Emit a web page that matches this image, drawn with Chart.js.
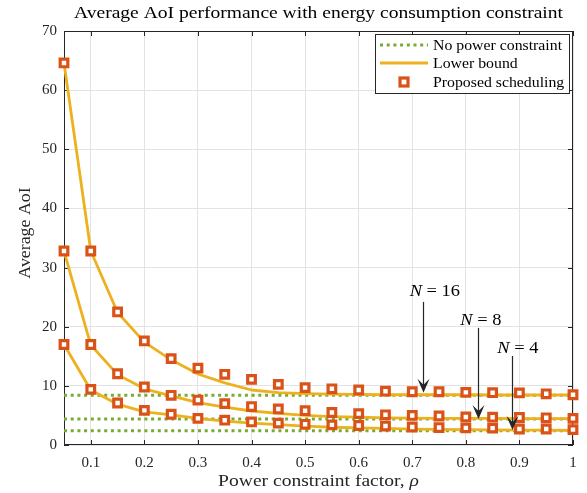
<!DOCTYPE html>
<html>
<head>
<meta charset="utf-8">
<script src="https://cdn.jsdelivr.net/npm/chart.js@4.4.1/dist/chart.umd.min.js"></script>
<style>
  html, body { margin: 0; padding: 0; background: #fff; }
</style>
</head>
<body>
<canvas id="myChart" width="587" height="493"></canvas>
<script>
const SERIF = '"Liberation Serif", "DejaVu Serif", serif';

const rhoValues = [0.05, 0.1, 0.15, 0.2, 0.25, 0.3, 0.35, 0.4, 0.45, 0.5,
  0.55, 0.6, 0.65, 0.7, 0.75, 0.8, 0.85, 0.9, 0.95, 1.0];
const xTicks = [0.1, 0.2, 0.3, 0.4, 0.5, 0.6, 0.7, 0.8, 0.9, 1];

// proposed scheduling (squares)
const schedN16 = [64.6, 32.8, 22.5, 17.6, 14.6, 13.0, 11.95, 11.1, 10.25, 9.7,
  9.5, 9.3, 9.1, 9.0, 9.0, 8.9, 8.85, 8.8, 8.65, 8.5];
const schedN8 = [32.8, 17.0, 12.05, 9.8, 8.4, 7.6, 7.0, 6.5, 6.1, 5.8,
  5.5, 5.3, 5.1, 5.0, 4.9, 4.75, 4.7, 4.65, 4.6, 4.5];
const schedN4 = [17.0, 9.4, 7.1, 5.85, 5.2, 4.5, 4.2, 3.9, 3.7, 3.5,
  3.4, 3.3, 3.2, 3.05, 2.95, 2.9, 2.85, 2.7, 2.7, 2.6];

// lower bound (solid)
const boundN16 = [64.6, 32.8, 22.4, 17.4, 14.4, 12.0, 10.5, 9.3, 8.85, 8.7,
  8.6, 8.55, 8.5, 8.5, 8.5, 8.5, 8.45, 8.45, 8.45, 8.45];
const boundN8 = [32.8, 16.9, 11.9, 9.5, 8.3, 7.15, 6.4, 5.75, 5.35, 5.0,
  4.8, 4.7, 4.6, 4.55, 4.5, 4.5, 4.5, 4.45, 4.45, 4.45];
const boundN4 = [17.0, 9.3, 6.9, 5.6, 5.1, 4.5, 4.05, 3.7, 3.45, 3.2,
  3.0, 2.9, 2.8, 2.7, 2.65, 2.6, 2.55, 2.5, 2.5, 2.45];

// no power constraint (dotted), for N = 16, 8, 4
const noPowerLevels = [8.4, 4.4, 2.4];

// arrow annotations: label, x, top of arrow, tip of arrow, label baseline
const annoLabels = ['16', '8', '4'];
const annoX = [0.72, 0.823, 0.886];
const annoLabelX = [0.742, 0.828, 0.897];
const annoTop = [24.2, 19.8, 15.05];
const annoTip = [8.85, 4.4, 2.54];
const annoBase = [25.2, 20.3, 15.6];

const GREEN = '#77AC30';
const YELLOW = '#EDB120';
const RED = '#D95319';
const AXIS = '#262626';
const STRETCH = 1.15; // computer modern is wider than times

const toPts = ys => rhoValues.map((x, i) => ({ x: x, y: ys[i] }));
const flat = y => [{ x: 0.05, y: y }, { x: 1, y: y }];

const datasets = [];
noPowerLevels.forEach(v => datasets.push({
  data: flat(v), showLine: true, borderColor: GREEN, borderWidth: 3, borderDash: [3, 3.7],
  pointRadius: 0, order: 3, clip: false
}));
[boundN16, boundN8, boundN4].forEach(b => datasets.push({
  data: toPts(b), showLine: true, borderColor: YELLOW, borderWidth: 2.8, pointRadius: 0,
  tension: 0, borderJoinStyle: 'round', order: 2, clip: false
}));
[schedN16, schedN8, schedN4].forEach(s => datasets.push({
  data: toPts(s), showLine: false, pointStyle: 'rect', pointRadius: 5.4,
  pointBorderWidth: 3.2, pointBorderColor: RED, pointBackgroundColor: '#fff',
  order: 1, clip: false
}));

function text(ctx, str, x, y, font, align, sx) {
  ctx.save();
  ctx.font = font;
  ctx.textAlign = align || 'left';
  ctx.translate(x, y);
  ctx.scale(sx || STRETCH, 1);
  ctx.fillText(str, 0, 0);
  ctx.restore();
}

function width(ctx, str, font) {
  ctx.font = font;
  return ctx.measureText(str).width * STRETCH;
}

function arrow(ctx, x, y0, y1) {
  ctx.strokeStyle = AXIS;
  ctx.fillStyle = AXIS;
  ctx.lineWidth = 1.2;
  ctx.beginPath();
  ctx.moveTo(x, y0);
  ctx.lineTo(x, y1 - 6);
  ctx.stroke();
  ctx.beginPath();
  ctx.moveTo(x, y1);
  ctx.lineTo(x - 6, y1 - 14);
  ctx.lineTo(x, y1 - 8);
  ctx.lineTo(x + 6, y1 - 14);
  ctx.closePath();
  ctx.fill();
}

function mathLabel(ctx, cx, base, num, size) {
  const it = 'italic ' + size + 'px ' + SERIF;
  const rm = size + 'px ' + SERIF;
  const rest = ' = ' + num;
  const w1 = width(ctx, 'N', it);
  const w2 = width(ctx, rest, rm);
  const x = cx - (w1 + w2) / 2;
  ctx.fillStyle = '#000';
  ctx.textBaseline = 'alphabetic';
  text(ctx, 'N', x, base, it);
  text(ctx, rest, x + w1, base, rm);
}

const boxPlugin = {
  id: 'box',
  beforeDatasetsDraw(chart) {
    const { ctx, chartArea: a, scales } = chart;
    ctx.save();
    ctx.strokeStyle = AXIS;
    ctx.lineWidth = 1;
    ctx.strokeRect(a.left + 0.5, a.top + 0.5, a.right - a.left - 1, a.bottom - a.top - 1);
    ctx.beginPath();
    xTicks.forEach(v => {
      const px = Math.round(scales.x.getPixelForValue(v)) + 0.5;
      ctx.moveTo(px, a.bottom); ctx.lineTo(px, a.bottom - 5);
      ctx.moveTo(px, a.top); ctx.lineTo(px, a.top + 5);
    });
    scales.y.ticks.forEach(t => {
      const py = Math.round(scales.y.getPixelForValue(t.value)) + 0.5;
      ctx.moveTo(a.left, py); ctx.lineTo(a.left + 5, py);
      ctx.moveTo(a.right, py); ctx.lineTo(a.right - 5, py);
    });
    ctx.stroke();
    ctx.restore();
  },
  afterDraw(chart) {
    const { ctx, chartArea: a, scales } = chart;
    ctx.save();
    ctx.textBaseline = 'alphabetic';
    // title
    ctx.fillStyle = '#000';
    text(ctx, 'Average AoI performance with energy consumption constraint',
      (a.left + a.right) / 2, 18, '17px ' + SERIF, 'center');
    // x label
    ctx.fillStyle = AXIS;
    const xl = 'Power constraint factor, ';
    const rm = '17px ' + SERIF, it = 'italic 17px ' + SERIF;
    const w1 = width(ctx, xl, rm);
    const w2 = width(ctx, 'ρ', it);
    const sx = (a.left + a.right) / 2 - (w1 + w2) / 2;
    text(ctx, xl, sx, 486, rm);
    text(ctx, 'ρ', sx + w1, 486, it);
    // y label
    ctx.save();
    ctx.translate(30, 233);
    ctx.rotate(-Math.PI / 2);
    text(ctx, 'Average AoI', 0, 0, rm, 'center', 1.05);
    ctx.restore();

    // annotations
    annoLabels.forEach((lab, i) => {
      const px = scales.x.getPixelForValue(annoX[i]);
      arrow(ctx, Math.round(px) + 0.5, scales.y.getPixelForValue(annoTop[i]), scales.y.getPixelForValue(annoTip[i]));
      mathLabel(ctx, scales.x.getPixelForValue(annoLabelX[i]), scales.y.getPixelForValue(annoBase[i]), lab, 16);
    });

    // legend
    const lx = a.right - 198, ly = a.top + 3, lw = 194, lh = 59;
    ctx.fillStyle = '#fff';
    ctx.fillRect(lx, ly, lw, lh);
    ctx.strokeStyle = AXIS;
    ctx.lineWidth = 1;
    ctx.strokeRect(lx + 0.5, ly + 0.5, lw, lh);
    const rows = [ly + 11, ly + 29, ly + 48];
    ctx.setLineDash([3, 3.7]);
    ctx.strokeStyle = GREEN;
    ctx.lineWidth = 3;
    ctx.beginPath(); ctx.moveTo(lx + 5, rows[0]); ctx.lineTo(lx + 53, rows[0]); ctx.stroke();
    ctx.setLineDash([]);
    ctx.strokeStyle = YELLOW;
    ctx.lineWidth = 2.8;
    ctx.beginPath(); ctx.moveTo(lx + 5, rows[1]); ctx.lineTo(lx + 53, rows[1]); ctx.stroke();
    ctx.strokeStyle = RED;
    ctx.fillStyle = '#fff';
    ctx.lineWidth = 3.2;
    ctx.fillRect(lx + 25, rows[2] - 4, 8, 8);
    ctx.strokeRect(lx + 25, rows[2] - 4, 8, 8);
    ctx.fillStyle = '#000';
    ctx.textBaseline = 'middle';
    ['No power constraint', 'Lower bound', 'Proposed scheduling'].forEach((t, i) => {
      text(ctx, t, lx + 58, rows[i] + 1, '14.5px ' + SERIF, 'left', 1.09);
    });
    ctx.restore();
  }
};

const tickFont = { family: SERIF, size: 15 };

new Chart(document.getElementById('myChart').getContext('2d'), {
  type: 'scatter',
  data: { datasets: datasets },
  options: {
    responsive: false,
    animation: false,
    devicePixelRatio: 1,
    layout: { padding: { left: 0, right: 14, top: 31, bottom: 0 } },
    plugins: { legend: { display: false }, tooltip: { enabled: false } },
    scales: {
      x: {
        type: 'linear', min: 0.05, max: 1,
        afterBuildTicks: s => { s.ticks = xTicks.map(v => ({ value: v })); },
        afterFit: s => { s.height = 48; },
        grid: { color: '#e3e3e3', drawTicks: false },
        border: { display: false },
        ticks: { font: tickFont, color: AXIS, padding: 9, maxRotation: 0,
          callback: v => String(v) }
      },
      y: {
        min: 0, max: 70,
        afterFit: s => { s.width = 64; },
        grid: { color: '#e3e3e3', drawTicks: false },
        border: { display: false },
        ticks: { stepSize: 10, font: tickFont, color: AXIS, padding: 7 }
      }
    }
  },
  plugins: [boxPlugin]
});
</script>
</body>
</html>
